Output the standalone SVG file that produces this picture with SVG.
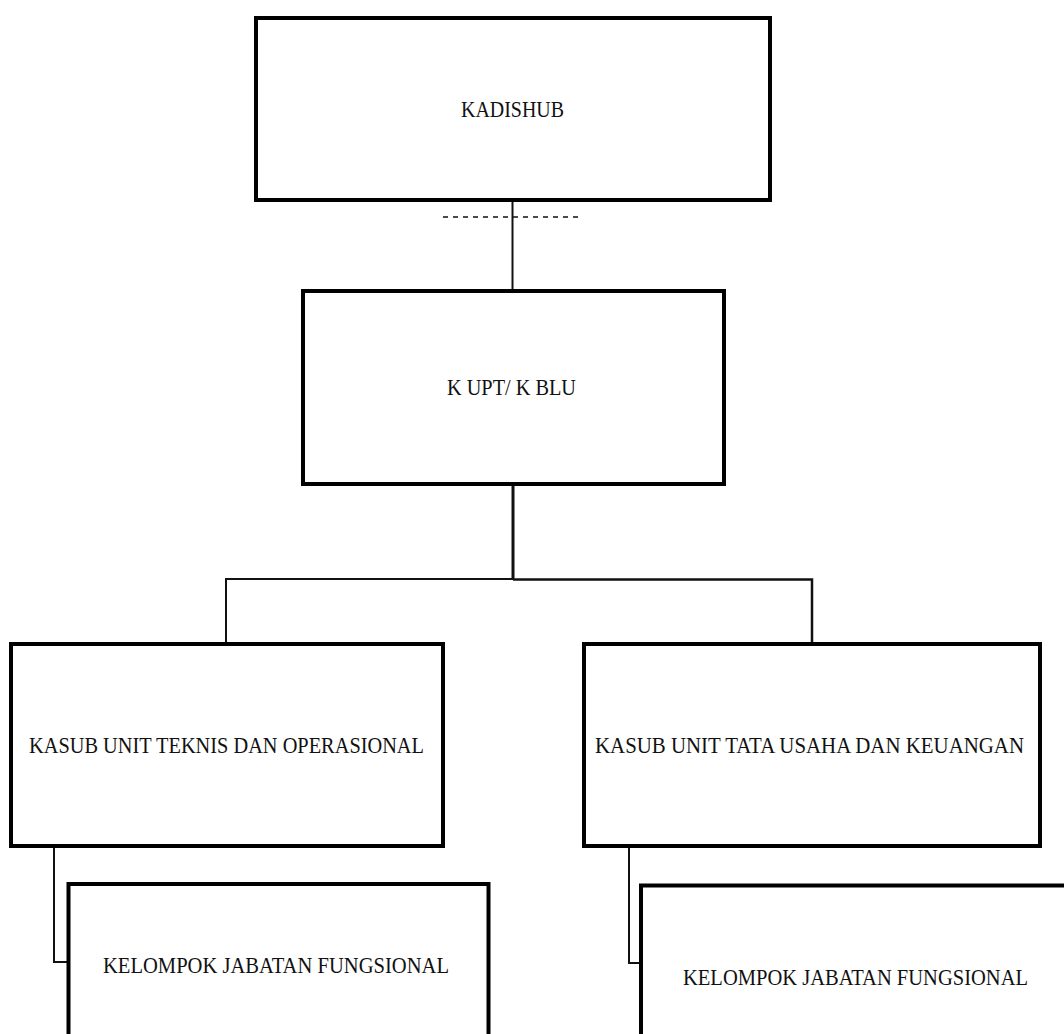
<svg xmlns="http://www.w3.org/2000/svg" width="1064" height="1034" viewBox="0 0 1064 1034">
<style>
.box{fill:#fff;stroke:#000;stroke-width:4}
.lbl{font-family:"Liberation Serif","Times New Roman",serif;font-size:24px;fill:#111;text-anchor:middle}
.ln{fill:none;stroke:#111;stroke-width:2}
</style>
<rect width="1064" height="1034" fill="#fff"/>
<g id="connectors">
<line class="ln" x1="512.5" y1="200" x2="512.5" y2="291"/>
<line class="ln" x1="443" y1="217" x2="579" y2="217" style="stroke-width:1.5;stroke-dasharray:5 5"/>
<line class="ln" x1="513" y1="484" x2="513" y2="580" style="stroke-width:3"/>
<polyline class="ln" points="226,644 226,579 513,579"/>
<polyline class="ln" points="513,579.5 812,579.5 812,644" style="stroke-width:2.5"/>
<polyline class="ln" points="54,846 54,962 68,962"/>
<polyline class="ln" points="629,846 629,963 641,963"/>
</g>
<g id="kadishub">
<rect class="box" x="256" y="18" width="514" height="182"/>
<text class="lbl" x="512.5" y="117" textLength="103" lengthAdjust="spacingAndGlyphs">KADISHUB</text>
</g>
<g id="kupt">
<rect class="box" x="303" y="291" width="421" height="193"/>
<text class="lbl" x="511.5" y="395" textLength="129" lengthAdjust="spacingAndGlyphs">K UPT/ K BLU</text>
</g>
<g id="kasub-teknis">
<rect class="box" x="11" y="644" width="432" height="202"/>
<text class="lbl" x="226.5" y="753" textLength="395" lengthAdjust="spacingAndGlyphs">KASUB UNIT TEKNIS DAN OPERASIONAL</text>
</g>
<g id="kasub-tu">
<rect class="box" x="584" y="644" width="456" height="202"/>
<text class="lbl" x="809.5" y="753" textLength="429" lengthAdjust="spacingAndGlyphs">KASUB UNIT TATA USAHA DAN KEUANGAN</text>
</g>
<g id="jf-left">
<rect class="box" x="68.5" y="884" width="420" height="200"/>
<text class="lbl" x="276" y="973" textLength="346" lengthAdjust="spacingAndGlyphs">KELOMPOK JABATAN FUNGSIONAL</text>
</g>
<g id="jf-right">
<rect class="box" x="641" y="885.5" width="500" height="200"/>
<text class="lbl" x="855.5" y="985" textLength="345" lengthAdjust="spacingAndGlyphs">KELOMPOK JABATAN FUNGSIONAL</text>
</g>
</svg>
